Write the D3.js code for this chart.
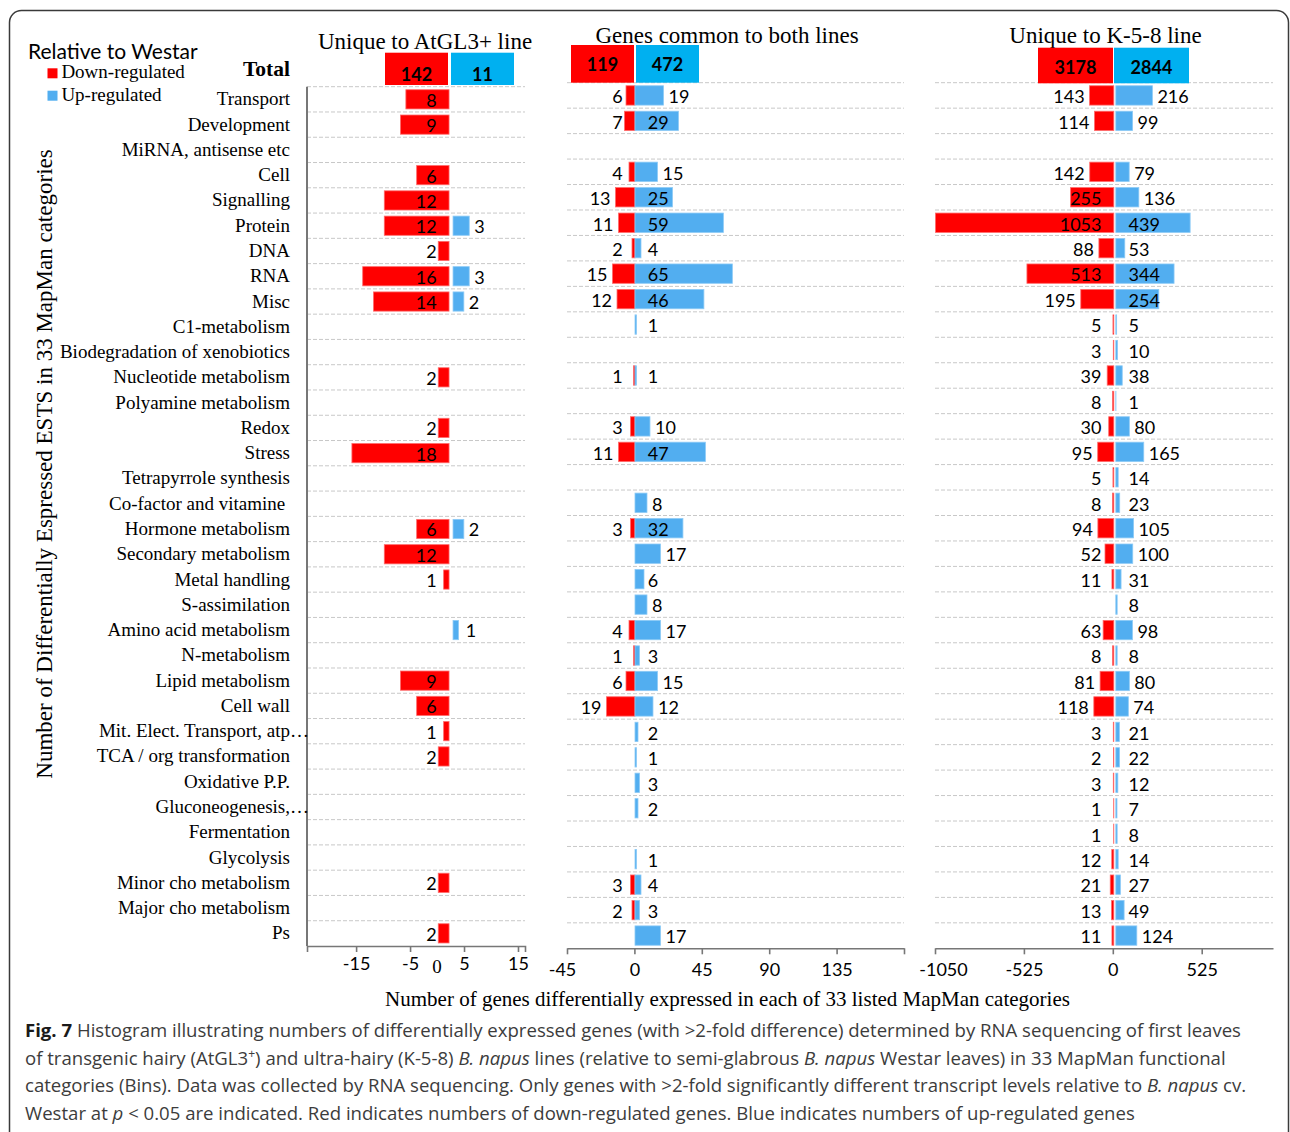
<!DOCTYPE html>
<html>
<head>
<meta charset="utf-8">
<script src="https://cdn.jsdelivr.net/npm/d3@7"></script>
<style>
  body { margin: 0; background: #fff; }
  svg text { white-space: pre; }
</style>
</head>
<body>
<svg id="chart" width="1290" height="1132"></svg>
<script>
// MapMan functional categories (bins), top to bottom
const categories = [
  "Transport", "Development", "MiRNA, antisense etc", "Cell", "Signalling", "Protein",
  "DNA", "RNA", "Misc", "C1-metabolism", "Biodegradation of xenobiotics",
  "Nucleotide metabolism", "Polyamine metabolism", "Redox", "Stress",
  "Tetrapyrrole synthesis", "Co-factor and vitamine ", "Hormone metabolism",
  "Secondary metabolism", "Metal handling", "S-assimilation", "Amino acid metabolism",
  "N-metabolism", "Lipid metabolism", "Cell wall", "Mit. Elect. Transport, atp…",
  "TCA / org transformation", "Oxidative P.P.", "Gluconeogenesis,…", "Fermentation",
  "Glycolysis", "Minor cho metabolism", "Major cho metabolism", "Ps"
];

// Down-/up-regulated gene counts per category
const atgl3Down  = [8, 9, 0, 6, 12, 12, 2, 16, 14, 0, 0, 2, 0, 2, 18, 0, 0, 6, 12, 1, 0, 0, 0, 9, 6, 1, 2, 0, 0, 0, 0, 2, 0, 2];
const atgl3Up    = [0, 0, 0, 0, 0, 3, 0, 3, 2, 0, 0, 0, 0, 0, 0, 0, 0, 2, 0, 0, 0, 1, 0, 0, 0, 0, 0, 0, 0, 0, 0, 0, 0, 0];
const commonDown = [6, 7, 0, 4, 13, 11, 2, 15, 12, 0, 0, 1, 0, 3, 11, 0, 0, 3, 0, 0, 0, 4, 1, 6, 19, 0, 0, 0, 0, 0, 0, 3, 2, 0];
const commonUp   = [19, 29, 0, 15, 25, 59, 4, 65, 46, 1, 0, 1, 0, 10, 47, 0, 8, 32, 17, 6, 8, 17, 3, 15, 12, 2, 1, 3, 2, 0, 1, 4, 3, 17];
const k58Down    = [143, 114, 0, 142, 255, 1053, 88, 513, 195, 5, 3, 39, 8, 30, 95, 5, 8, 94, 52, 11, 0, 63, 8, 81, 118, 3, 2, 3, 1, 1, 12, 21, 13, 11];
const k58Up      = [216, 99, 0, 79, 136, 439, 53, 344, 254, 5, 10, 38, 1, 80, 165, 14, 23, 105, 100, 31, 8, 98, 8, 80, 74, 21, 22, 12, 7, 8, 14, 27, 49, 124];

// Totals per group
const totalsDown = [142, 119, 3178];
const totalsUp   = [11, 472, 2844];

const panelTitles = ["Unique to AtGL3+ line", "Genes common to both lines", "Unique to K-5-8 line"];

// Axis ticks and their labels
const ticks1 = [-15, -5, 5, 15];
const tickText1 = ["-15", "-5", "5", "15"];
const ticks2 = [-45, 0, 45, 90, 135, 180];
const tickText2 = ["-45", "0", "45", "90", "135", ""];
const ticks3 = [-1050, -525, 0, 525];
const tickText3 = ["-1050", "-525", "0", "525"];

const SERIF = "'Liberation Serif', 'Times New Roman', serif";
const SANS = "Lato, 'Open Sans', sans-serif";
const CAPTION_FONT = "'Open Sans', 'Noto Sans', sans-serif";
const RED = "#ff0000", BLUE = "#52aef0", BLUE_TOTAL = "#00b0f0";
const GRID = "#c8c8c8", AXIS = "#777777";

const svg = d3.select("#chart");

// outer rounded frame
svg.append("rect")
  .attr("x", 9.5).attr("y", 10.5).attr("width", 1279).attr("height", 1140).attr("rx", 12)
  .attr("fill", "none").attr("stroke", "#3a3a3a").attr("stroke-width", 1.5);

const panels = [
  { title: panelTitles[0], down: atgl3Down, up: atgl3Up, tDown: totalsDown[0], tUp: totalsUp[0],
    domain: [-24.1, 16.3], xRange: [307, 525], yRange: [86.7, 946], redOff: 12, blueOff: 16,
    ticks: ticks1, tickText: tickText1, tickPad: 5.2, outer: 6, firstDx: 0,
    titleX: 425, titleY: 49, labelDy: 7.4,
    box: { red: 385, blue: 451, w: 63, top: 52.7, h: 32.3, textY: 80.7 }, leftAxis: true },
  { title: panelTitles[1], down: commonDown, up: commonUp, tDown: totalsDown[1], tUp: totalsUp[1],
    domain: [-45, 180], xRange: [567, 904], yRange: [82.7, 948.3], redOff: 0.6, blueOff: 0.6,
    ticks: ticks2, tickText: tickText2, tickPad: 8.9, outer: 0, firstDx: -5,
    titleX: 727, titleY: 42.7, labelDy: 7.8,
    box: { red: 571, blue: 636, w: 63, top: 45, h: 37.7, textY: 71 }, leftAxis: false },
  { title: panelTitles[2], down: k58Down, up: k58Up, tDown: totalsDown[2], tUp: totalsUp[2],
    domain: [-1050, 946], xRange: [935, 1273], yRange: [82.7, 948.3], redOff: 1, blueOff: 3,
    ticks: ticks3, tickText: tickText3, tickPad: 8.9, outer: 0, firstDx: 8,
    titleX: 1105.5, titleY: 42.7, labelDy: 7.8,
    box: { red: 1038, blue: 1114, w: 75, top: 47.7, h: 35.6, textY: 74 }, leftAxis: false }
];

let firstY = null;

panels.forEach((p, pi) => {
  const x = d3.scaleLinear().domain(p.domain).range(p.xRange);
  const y = d3.scaleBand().domain(categories).range(p.yRange).paddingInner(0.24).paddingOuter(0.12);
  if (pi === 0) firstY = y;
  const x0 = x(0);
  const g = svg.append("g");

  // dashed row separators
  g.append("g").selectAll("line").data(categories).join("line")
    .attr("x1", p.xRange[0]).attr("x2", p.xRange[1])
    .attr("y1", d => y(d) - y.step() * 0.12).attr("y2", d => y(d) - y.step() * 0.12)
    .attr("stroke", GRID).attr("stroke-width", 1).attr("stroke-dasharray", "4,2");

  if (p.leftAxis) {
    g.append("line").attr("x1", p.xRange[0]).attr("x2", p.xRange[0])
      .attr("y1", p.yRange[0]).attr("y2", p.yRange[1])
      .attr("stroke", AXIS).attr("stroke-width", 2);
  }

  const rows = categories.map((c, i) => ({ c, down: p.down[i], up: p.up[i] }));
  const redRight = x0 + p.redOff;
  const blueLeft = x0 + p.blueOff;

  // down-regulated (left) bars
  g.append("g").selectAll("rect").data(rows.filter(r => r.down > 0)).join("rect")
    .attr("x", r => redRight - (x0 - x(-r.down)))
    .attr("width", r => x0 - x(-r.down))
    .attr("y", r => y(r.c)).attr("height", y.bandwidth())
    .attr("fill", RED).attr("stroke", "#ff6a6a").attr("stroke-width", 0.8);

  // up-regulated (right) bars
  g.append("g").selectAll("rect").data(rows.filter(r => r.up > 0)).join("rect")
    .attr("x", blueLeft)
    .attr("width", r => x(r.up) - x0)
    .attr("y", r => y(r.c)).attr("height", y.bandwidth())
    .attr("fill", BLUE).attr("stroke", "#8ccaf6").attr("stroke-width", 0.8);

  // value labels
  const lab = g.append("g").attr("font-family", SANS).attr("font-size", 18).attr("fill", "#000");
  rows.forEach(r => {
    const cy = y(r.c) + y.bandwidth() / 2 + p.labelDy;
    if (r.down > 0) {
      const t = lab.append("text").attr("y", cy).attr("text-anchor", "end").text(r.down);
      const w = t.node().getComputedTextLength();
      const barLeft = redRight - (x0 - x(-r.down));
      const defEnd = redRight - 12.3;
      let end = defEnd;
      if (barLeft > defEnd - w + 2 && barLeft < defEnd + 1) end = barLeft - 5;
      t.attr("x", end);
    }
    if (r.up > 0) {
      const t = lab.append("text").attr("y", cy).attr("text-anchor", "start").text(r.up);
      const w = t.node().getComputedTextLength();
      const barRight = blueLeft + (x(r.up) - x0);
      const defStart = blueLeft + 12.7;
      let start = defStart;
      if (barRight < defStart + w - 2 && barRight > defStart - 2) start = barRight + 5;
      t.attr("x", start);
    }
  });

  // x axis
  const axis = d3.axisBottom(x).tickValues(p.ticks)
    .tickFormat((d, i) => p.tickText[i])
    .tickSize(6).tickSizeOuter(p.outer).tickPadding(p.tickPad);
  const ag = svg.append("g").attr("transform", `translate(0,${p.yRange[1]})`).call(axis);
  ag.select(".domain").attr("stroke", AXIS).attr("stroke-width", 1.6);
  ag.selectAll(".tick line").attr("stroke", AXIS).attr("stroke-width", 1.6);
  ag.selectAll(".tick text").attr("font-family", SANS).attr("font-size", 18).attr("fill", "#000");
  ag.selectAll(".tick text").filter((d, i) => i === 0).attr("dx", p.firstDx);
  if (pi === 0) {
    svg.append("text").attr("x", x0).attr("y", 973).attr("text-anchor", "middle")
      .attr("font-family", SERIF).attr("font-size", 19).text("0");
  }

  // group title
  svg.append("text").attr("x", p.titleX).attr("y", p.titleY).attr("text-anchor", "middle")
    .attr("font-family", SERIF).attr("font-size", 23).attr("fill", "#000").text(p.title);

  // total boxes
  const b = p.box;
  [[b.red, RED, p.tDown], [b.blue, BLUE_TOTAL, p.tUp]].forEach(([bx, col, val]) => {
    svg.append("rect").attr("x", bx).attr("y", b.top).attr("width", b.w).attr("height", b.h).attr("fill", col);
    svg.append("text").attr("x", bx + b.w / 2).attr("y", b.textY).attr("text-anchor", "middle")
      .attr("font-family", SANS).attr("font-weight", "bold").attr("font-size", 18).attr("fill", "#000")
      .text(val);
  });
});

// category labels
const catG = svg.append("g").attr("font-family", SERIF).attr("font-size", 19).attr("fill", "#000");
categories.forEach(c => {
  const cy = firstY(c) + firstY.bandwidth() / 2 + 6;
  if (c.endsWith("…")) {
    catG.append("text").attr("x", 290).attr("y", cy).attr("text-anchor", "end").text(c.slice(0, -1));
    catG.append("text").attr("x", 290).attr("y", cy).attr("text-anchor", "start").text("…");
  } else {
    catG.append("text").attr("x", 290).attr("y", cy).attr("text-anchor", "end").text(c);
  }
});

svg.append("text").attr("x", 290).attr("y", 76).attr("text-anchor", "end")
  .attr("font-family", SERIF).attr("font-weight", "bold").attr("font-size", 21.5).text("Total");

// legend
svg.append("text").attr("x", 28).attr("y", 59.3).attr("font-family", SANS).attr("font-size", 21)
  .text("Relative to Westar");
svg.append("rect").attr("x", 47.5).attr("y", 68.3).attr("width", 10).attr("height", 10).attr("fill", RED);
svg.append("text").attr("x", 61.4).attr("y", 78.3).attr("font-family", SERIF).attr("font-size", 19).text("Down-regulated");
svg.append("rect").attr("x", 47.5).attr("y", 90.7).attr("width", 10).attr("height", 10).attr("fill", BLUE);
svg.append("text").attr("x", 61.4).attr("y", 100.7).attr("font-family", SERIF).attr("font-size", 19).text("Up-regulated");

// axis titles
svg.append("text").attr("transform", "translate(52,464) rotate(-90)").attr("text-anchor", "middle")
  .attr("font-family", SERIF).attr("font-size", 23)
  .text("Number of Differentially Espressed ESTS in 33 MapMan categories");
svg.append("text").attr("x", 727.5).attr("y", 1005.5).attr("text-anchor", "middle")
  .attr("font-family", SERIF).attr("font-size", 21)
  .text("Number of genes differentially expressed in each of 33 listed MapMan categories");

// figure caption
const captionLines = [
  [["Fig. 7", "b"], [" Histogram illustrating numbers of differentially expressed genes (with >2-fold difference) determined by RNA sequencing of first leaves"]],
  [["of transgenic hairy (AtGL3"], ["+", "sup"], [") and ultra-hairy (K-5-8) "], ["B. napus", "i"], [" lines (relative to semi-glabrous "], ["B. napus", "i"], [" Westar leaves) in 33 MapMan functional"]],
  [["categories (Bins). Data was collected by RNA sequencing. Only genes with >2-fold significantly different transcript levels relative to "], ["B. napus", "i"], [" cv."]],
  [["Westar at "], ["p", "i"], [" < 0.05 are indicated. Red indicates numbers of down-regulated genes. Blue indicates numbers of up-regulated genes"]]
];
const capG = svg.append("g").attr("font-family", CAPTION_FONT).attr("font-size", 17).attr("fill", "#3c3c3c");
const capTexts = captionLines.map((segs, li) => {
  const t = capG.append("text").attr("x", 25).attr("y", 1037 + li * 27.6);
  let shifted = false;
  segs.forEach(([s, st]) => {
    const ts = t.append("tspan").text(s);
    if (st === "b") ts.attr("font-weight", "bold").attr("fill", "#1a1a1a");
    if (st === "i") ts.attr("font-style", "italic");
    if (st === "sup") { ts.attr("font-size", "0.65em").attr("dy", -7); shifted = true; }
    else if (shifted) { ts.attr("dy", 7); shifted = false; }
  });
  return t;
});
// size the caption so its first line spans the frame's text width
const firstLineW = capTexts[0].node().getComputedTextLength();
capG.attr("font-size", 17 * 1217 / firstLineW);
</script>
</body>
</html>
